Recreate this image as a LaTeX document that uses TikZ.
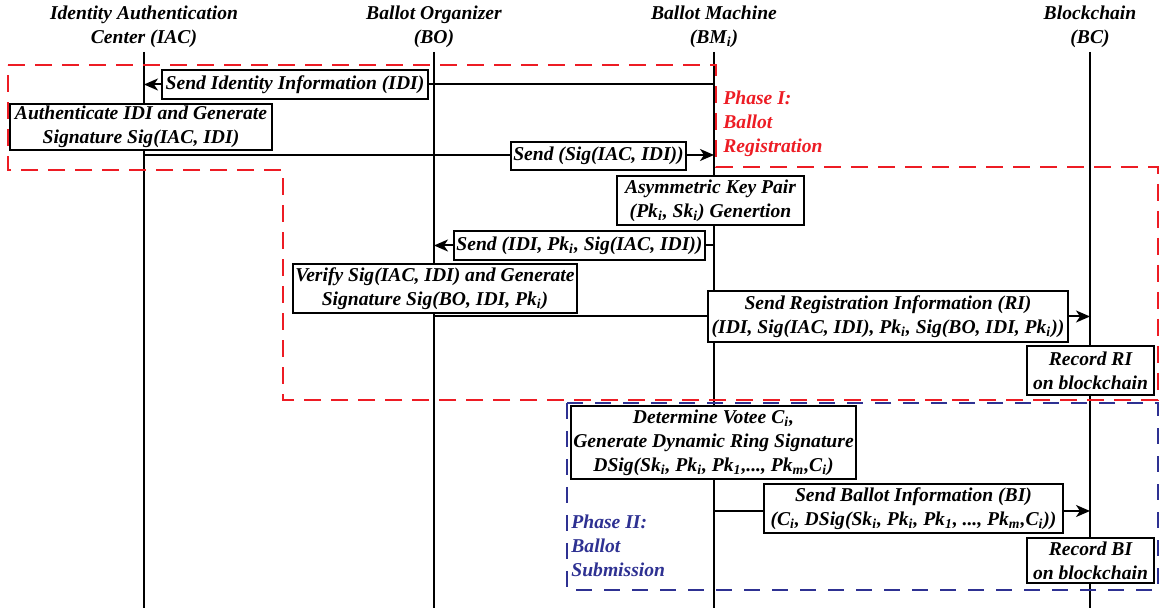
\documentclass[tikz,border=0pt]{standalone}
\usepackage{fontspec}
\setmainfont{Liberation Serif}
\usetikzlibrary{arrows.meta,backgrounds}
\definecolor{phred}{HTML}{ED1C24}
\definecolor{phblue}{HTML}{2E3192}
\newcommand\sbs[1]{\textsubscript{#1}}
\begin{document}
\begin{tikzpicture}[x=0.5pt,y=-0.5pt,
  every node/.style={font=\fontsize{9.8}{12}\selectfont\bfseries\itshape},
  box/.style={draw,fill=white,line width=0.9pt,align=center,inner sep=0pt,outer sep=0pt},
  life/.style={line width=1pt},
  msg/.style={line width=1pt,-{Stealth[length=7pt,width=6pt,inset=2pt]}},
  head/.style={align=center,inner sep=0pt},
  phase/.style={align=left,inner sep=0pt,anchor=north west},
  reddash/.style={draw=phred,line width=0.9pt,dash pattern=on 8.5pt off 5pt},
  bluedash/.style={draw=phblue,line width=0.9pt,dash pattern=on 8pt off 6pt}]
\useasboundingbox (0,0) rectangle (1168,608);

% headers
\node[head] (hiac) at (144,27) {Identity Authentication\\Center (IAC)};
\node[head] (hbo) at (434,27) {Ballot Organizer\\(BO)};
\node[head] (hbm) at (714,27) {Ballot Machine\\(BM\sbs{i})};
\node[head] (hbc) at (1090,27) {Blockchain\\(BC)};

% lifeline ends
\coordinate (iacT) at (144,52); \coordinate (iacB) at (144,608);
\coordinate (boT) at (434,52);  \coordinate (boB) at (434,608);
\coordinate (bmT) at (714,52);  \coordinate (bmB) at (714,608);
\coordinate (bcT) at (1090,52); \coordinate (bcB) at (1090,608);

% boxes
\node[box,minimum width=133pt,minimum height=14.5pt] (m1) at (295,84.5) {Send Identity Information (IDI)};
\node[box,minimum width=131pt,minimum height=23pt] (auth) at (141,127) {Authenticate IDI and Generate\\Signature Sig(IAC, IDI)};
\node[box,minimum width=87.5pt,minimum height=14pt] (m3) at (598.5,156) {Send (Sig(IAC, IDI))};
\node[box,minimum width=93.5pt,minimum height=24.5pt] (key) at (710.5,200.5) {Asymmetric Key Pair\\(Pk\sbs{i}, Sk\sbs{i}) Genertion};
\node[box,minimum width=125.5pt,minimum height=14.5pt] (m5) at (579.5,245.5) {Send (IDI, Pk\sbs{i}, Sig(IAC, IDI))};
\node[box,minimum width=142pt,minimum height=24.5pt] (ver) at (435,288.5) {Verify Sig(IAC, IDI) and Generate\\Signature Sig(BO, IDI, Pk\sbs{i})};
\node[box,minimum width=180pt,minimum height=25.5pt] (m7) at (888,316.5) {Send Registration Information (RI)\\(IDI, Sig(IAC, IDI), Pk\sbs{i}, Sig(BO, IDI, Pk\sbs{i}))};
\node[box,minimum width=63.5pt,minimum height=24.5pt] (rri) at (1090.5,370.5) {Record RI\\on blockchain};
\node[box,minimum width=142.5pt,minimum height=36.5pt] (vot) at (713.5,442.5) {Determine Votee C\sbs{i},\\Generate Dynamic Ring Signature\\DSig(Sk\sbs{i}, Pk\sbs{i}, Pk\sbs{1},..., Pk\sbs{m},C\sbs{i})};
\node[box,minimum width=149.5pt,minimum height=24.5pt] (m10) at (913.5,508.5) {Send Ballot Information (BI)\\(C\sbs{i}, DSig(Sk\sbs{i}, Pk\sbs{i}, Pk\sbs{1}, ..., Pk\sbs{m},C\sbs{i}))};
\node[box,minimum width=63.5pt,minimum height=22.5pt] (rbi) at (1090.5,560.5) {Record BI\\on blockchain};

% phase labels
\node[phase,text=phred] (p1) at (723,91) {Phase I:\\Ballot\\Registration};
\node[phase,text=phblue] (p2) at (571,515) {Phase II:\\Ballot\\Submission};

\begin{scope}[on background layer]
\draw[life] (iacT) -- (iacB);
\draw[life] (boT) -- (boB);
\draw[life] (bmT) -- (bmB);
\draw[life] (bcT) -- (bcB);
\draw[msg] (bmT |- m1) -- (iacT |- m1);
\draw[msg] (iacT |- 0,155) -- (bmT |- 0,155);
\draw[msg] (bmT |- m5) -- (boT |- m5);
\draw[msg] (boT |- m7) -- (bcT |- m7);
\draw[msg] (bmT |- 0,511) -- (bcT |- 0,511);
\end{scope}

% phase frames
\draw[reddash] (8,65) -- (716,65) -- (716,167) -- (1158,167) -- (1158,400) -- (283,400) -- (283,170) -- (8,170) -- cycle;
\draw[bluedash] (567,403) rectangle (1158,590);
\end{tikzpicture}
\end{document}
